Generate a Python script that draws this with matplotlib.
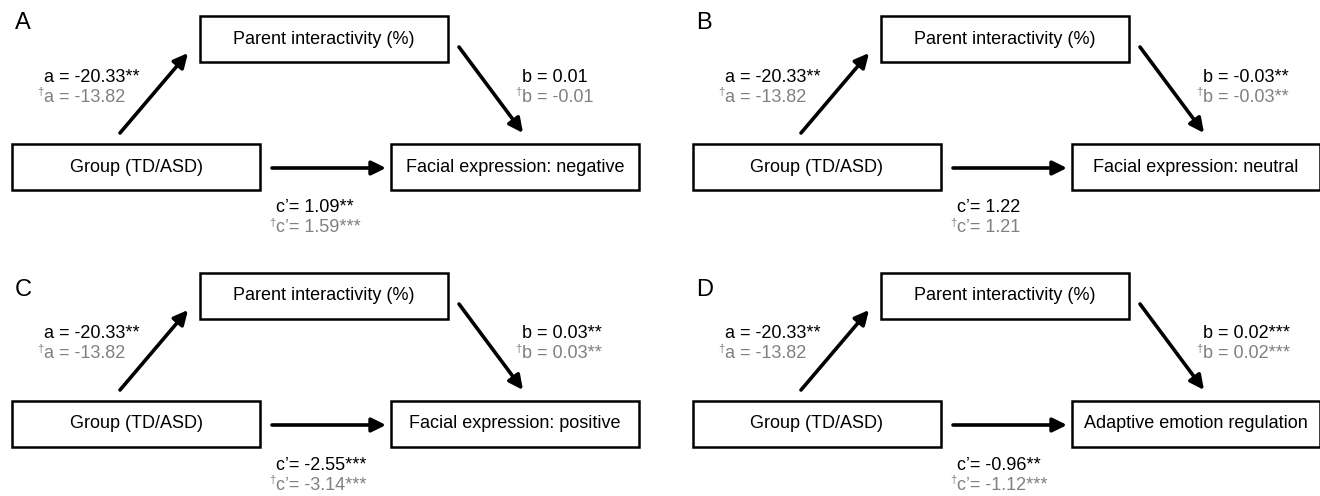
import matplotlib
matplotlib.use("Agg")
import matplotlib.pyplot as plt
from matplotlib.patches import Rectangle, FancyArrowPatch

plt.rcParams['font.family'] = ['Liberation Sans', 'DejaVu Sans']

# mediation model values, one entry per panel
panel_labels = ['A', 'B', 'C', 'D']
predictor = 'Group (TD/ASD)'
mediator = 'Parent interactivity (%)'
outcomes = ['Facial expression: negative', 'Facial expression: neutral',
            'Facial expression: positive', 'Adaptive emotion regulation']
a_vals = ['-20.33**', '-20.33**', '-20.33**', '-20.33**']
a_adj = ['-13.82', '-13.82', '-13.82', '-13.82']
b_vals = ['0.01', '-0.03**', '0.03**', '0.02***']
b_adj = ['-0.01', '-0.03**', '0.03**', '0.02***']
c_vals = ['1.09**', '1.22', '-2.55***', '-0.96**']
c_adj = ['1.59***', '1.21', '-3.14***', '-1.12***']

gray = '#808080'
fs = 13

fig = plt.figure(figsize=(13.2, 4.96), dpi=100)
ax = fig.add_axes([0, 0, 1, 1])
ax.set_xlim(0, 1320)
ax.set_ylim(496, 0)
ax.axis('off')


def box(x0, y0, txt):
    ax.add_patch(Rectangle((x0, y0), 248, 46, fill=False, ec='black', lw=1.8))
    ax.text(x0 + 124, y0 + 23, txt, ha='center', va='center', fontsize=fs)


def arrow(x0, y0, x1, y1):
    ax.add_patch(FancyArrowPatch((x0, y0), (x1, y1),
                                 arrowstyle='-|>,head_length=0.85,head_width=0.42',
                                 mutation_scale=10, lw=2.6, color='black',
                                 shrinkA=0, shrinkB=0))


def coef(x, y, name, val, adj):
    ax.text(x, y, name + ' = ' + val if name != 'c\u2019' else name + '= ' + val,
            ha='left', va='center', fontsize=fs, color='black')
    ax.text(x, y + 20, name + ' = ' + adj if name != 'c\u2019' else name + '= ' + adj,
            ha='left', va='center', fontsize=fs, color=gray)
    ax.text(x - 0.5, y + 15, '\u2020', ha='right', va='center', fontsize=8, color=gray)


for i in range(4):
    dx = 681 * (i % 2)
    dy = 257 * (i // 2)
    lab_y = 23 if i < 2 else 290
    ax.text(dx + 15, lab_y, panel_labels[i], ha='left', va='center', fontsize=17)
    box(dx + 200, dy + 16, mediator)
    box(dx + 12, dy + 144, predictor)
    box(dx + 391, dy + 144, outcomes[i])
    arrow(dx + 120, dy + 133, dx + 188, dy + 53)
    arrow(dx + 459, dy + 47, dx + 523, dy + 133)
    arrow(dx + 272, dy + 168, dx + 386, dy + 168)
    coef(dx + 44, dy + 77, 'a', a_vals[i], a_adj[i])
    coef(dx + 522, dy + 77, 'b', b_vals[i], b_adj[i])
    coef(dx + 276, dy + 208, 'c\u2019', c_vals[i], c_adj[i])

fig.savefig('out.png', dpi=100)
